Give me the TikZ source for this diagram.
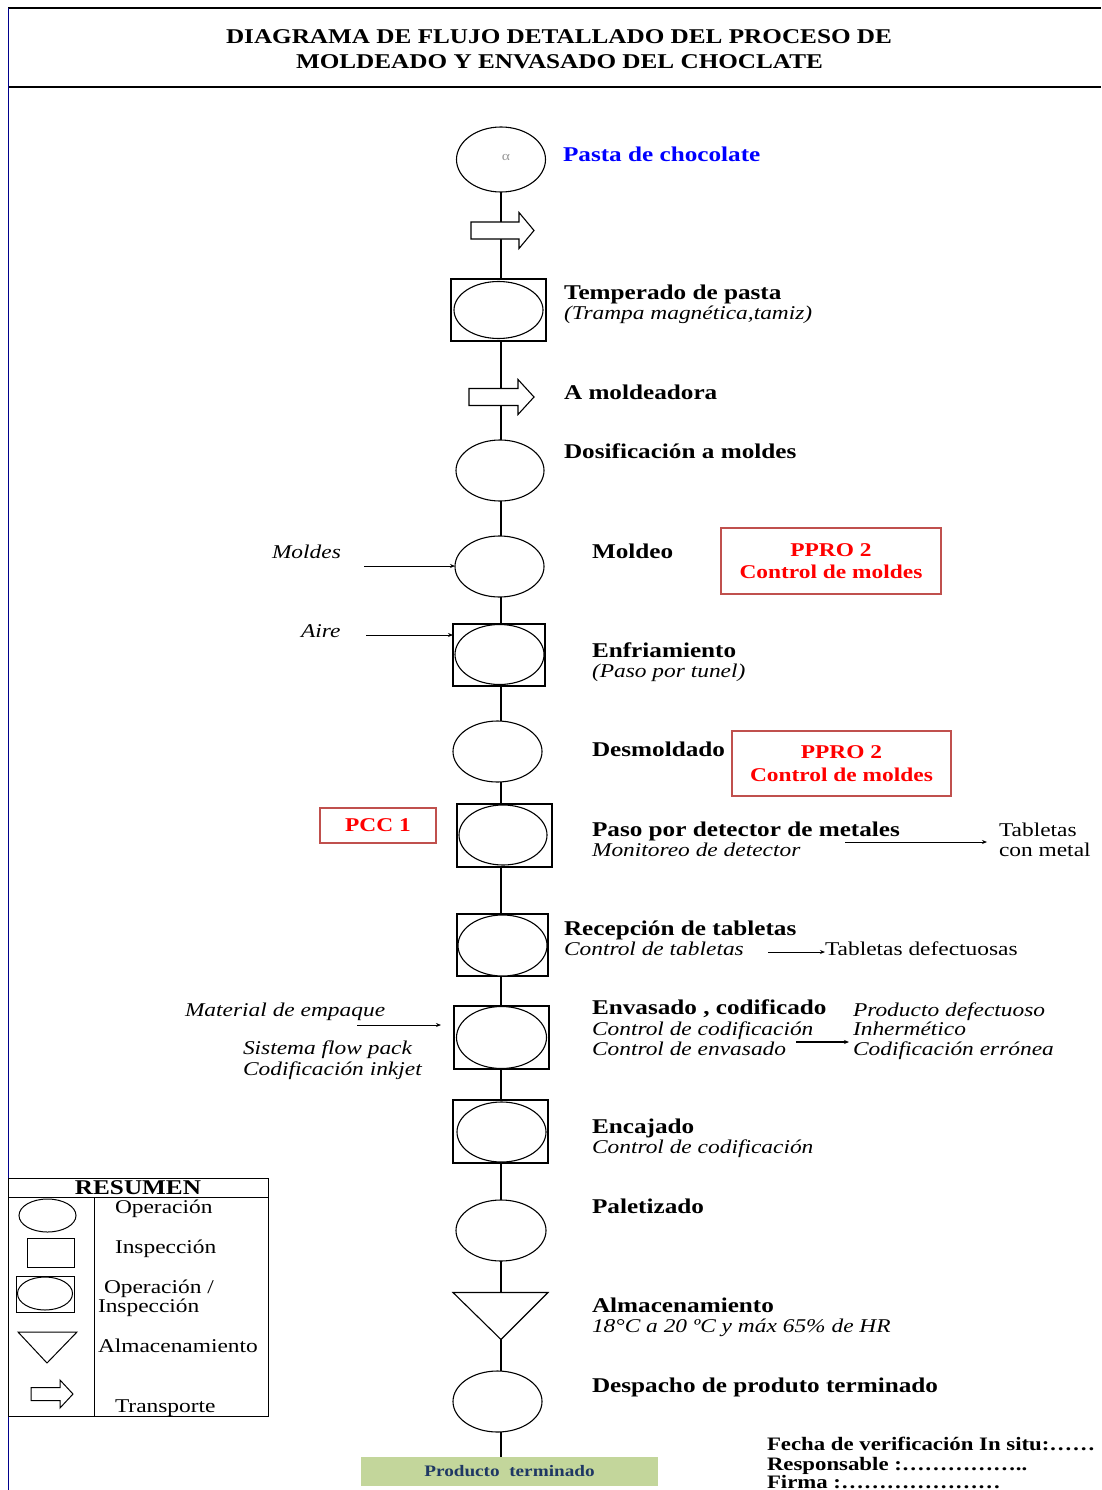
\documentclass[tikz,border=0pt]{standalone}
\usepackage{fontspec}
\setmainfont{Liberation Serif}[FakeStretch=1.2]
\usetikzlibrary{shapes.geometric,arrows.meta,backgrounds}
\definecolor{pprored}{HTML}{C0504D}
\definecolor{ptgreen}{HTML}{C3D69B}
\definecolor{ptnavy}{HTML}{1F3864}
\newcommand\transp[7]{%
  \draw[shp] (#2,#3-#6) -- (#2+#4,#3-#6) -- (#2+#4,#3-#7) -- (#2+#4+#5,#3)
     -- (#2+#4,#3+#7) -- (#2+#4,#3+#6) -- (#2,#3+#6) -- cycle;
  \coordinate (#1) at (#2+#4/2+#5/2,#3);}
\begin{document}
\begin{tikzpicture}[x=1pt,y=-1pt,
  every node/.style={inner sep=0pt, outer sep=0pt},
  shp/.style={draw, line width=1.1pt, fill=white},
  op/.style={shp, ellipse, minimum width=89pt, minimum height=61pt},
  insp/.style={shp, rectangle},
  bt/.style={anchor=base west, font=\fontsize{21}{24}\selectfont\bfseries},
  vt/.style={anchor=base west, font=\fontsize{19}{22}\selectfont\bfseries},
  it/.style={anchor=base west, font=\fontsize{19.5}{22}\selectfont\itshape},
  nt/.style={anchor=base west, font=\fontsize{19.5}{22}\selectfont},
  ppro/.style={draw=pprored, line width=1.3pt, text=red, align=center, font=\fontsize{19.5}{22.5}\selectfont\bfseries},
  side/.style={line width=1pt, -{Stealth[length=5pt,width=4pt]}},
  frame/.style={line width=1.2pt}
]
\useasboundingbox (0,0) rectangle (1101,1490);

% frame and title
\draw[frame] (8,8) -- (1101,8);
\draw[frame] (8,87) -- (1101,87);
\draw[line width=1pt, blue!55!black] (8,8) -- (8,1490);
\node[anchor=base, font=\fontsize{21}{25}\selectfont\bfseries] (title1) at (559,44) {DIAGRAMA DE FLUJO DETALLADO DEL PROCESO DE};
\node[anchor=base, font=\fontsize{21}{25}\selectfont\bfseries] (title2) at (559.5,69) {MOLDEADO Y ENVASADO DEL CHOCLATE};

% main column shapes
\node[op, minimum width=89, minimum height=65] (pasta) at (501,159.5) {};
\node[font=\fontsize{13}{13}\selectfont, text=gray!80] (alpha) at (506,157) {α};
\node[insp, minimum width=95, minimum height=62] (temp) at (498.5,310) {};
\node[op, minimum width=89, minimum height=57] (tempo) at (498.5,310) {};
\node[op, minimum width=88, minimum height=61] (dos) at (500,470.5) {};
\node[op] (mol) at (499.5,566.5) {};
\node[insp, minimum width=92, minimum height=62] (enf) at (499,655) {};
\node[op, minimum width=89, minimum height=60] (enfo) at (499.5,654.5) {};
\node[op] (des) at (497.5,751.5) {};
\node[insp, minimum width=95, minimum height=63] (det) at (504.5,835.5) {};
\node[op, minimum width=88, minimum height=60] (deto) at (503,835) {};
\node[insp, minimum width=91, minimum height=62] (rec) at (502.5,945) {};
\node[op, minimum width=89, minimum height=61] (reco) at (502.5,945.5) {};
\node[insp, minimum width=95, minimum height=63] (env) at (501.5,1037.5) {};
\node[op, minimum width=90, minimum height=62] (envo) at (501.5,1037.5) {};
\node[insp, minimum width=95, minimum height=63] (enc) at (500.5,1131.5) {};
\node[op, minimum width=89, minimum height=60] (enco) at (501.5,1132) {};
\node[op, minimum width=90, minimum height=61] (pal) at (501,1230.5) {};
\draw[shp] (453,1292.5) -- (548,1292.5) -- (501,1339.5) -- cycle;
\coordinate (alm) at (501,1310);
\node[op, minimum width=89, minimum height=61] (desp) at (497.5,1401.5) {};
\node[fill=ptgreen, minimum width=297, minimum height=29, text=ptnavy,
      font=\fontsize{16}{18}\selectfont\bfseries] (pt) at (509.5,1471.5) {Producto~ terminado};

% transport arrows
\transp{tr1}{471}{230.5}{48}{15}{8.5}{18}
\transp{tr2}{469}{397}{49}{16}{8.5}{17.5}

% main flow line (behind the white-filled symbols)
\begin{scope}[on background layer]
  \draw[line width=1.1pt] (pasta.south) -- (pasta.south |- pt.north);
\end{scope}

% step labels
\node[bt, text=blue] (tpasta) at (563,162) {Pasta de chocolate};
\node[bt] (ttemp) at (564,299) {Temperado de pasta};
\node[it] (ttemp2) at (564,319) {(Trampa magnética,tamiz)};
\node[bt] (tamol) at (564,399) {A moldeadora};
\node[bt] (tdos) at (564,458) {Dosificación a moldes};
\node[bt] (tmol) at (592,558) {Moldeo};
\node[ppro, minimum width=220, minimum height=66] (ppro1) at (831,561) {PPRO 2\\Control de moldes};
\node[it] (tmoldes) at (272,558) {Moldes};
\coordinate (a1) at (364,566);
\draw[side] (a1) -- (a1 -| mol.west);
\node[it] (taire) at (301,637) {Aire};
\coordinate (a2) at (366,635);
\draw[side] (a2) -- (a2 -| enf.west);
\node[bt] (tenf) at (592,657) {Enfriamiento};
\node[it] (tenf2) at (592,677) {(Paso por tunel)};
\node[bt] (tdes) at (592,756) {Desmoldado};
\node[ppro, minimum width=219, minimum height=65] (ppro2) at (841.5,763.5) {PPRO 2\\Control de moldes};
\node[ppro, minimum width=116, minimum height=35] (pcc) at (378,825.5) {PCC 1};
\node[bt] (tdet) at (592,836) {Paso por detector de metales};
\node[it] (tdet2) at (592,856) {Monitoreo de detector};
\node[nt] (tmet1) at (999,836) {Tabletas};
\node[nt] (tmet2) at (999,856) {con metal};
\coordinate (a3) at (845,842);
\draw[side, shorten >=12pt] (a3) -- (a3 -| tmet1.west);
\node[bt] (trec) at (564,935) {Recepción de tabletas};
\node[it] (trec2) at (564,955) {Control de tabletas};
\node[nt] (tdef) at (825,955) {Tabletas defectuosas};
\coordinate (a4) at (768,952);
\draw[side] (a4) -- (a4 -| tdef.west);
\node[it] (tmat) at (185,1016) {Material de empaque};
\coordinate (a5) at (357,1025);
\draw[side, shorten >=13pt] (a5) -- (a5 -| env.west);
\node[it] (tsis) at (243,1054) {Sistema flow pack};
\node[it] (tcod) at (243,1075) {Codificación inkjet};
\node[bt] (tenv) at (592,1014) {Envasado , codificado};
\node[it] (tenv2) at (592,1035) {Control de codificación};
\node[it] (tenv3) at (592,1055) {Control de envasado};
\node[it] (tpd) at (853,1016) {Producto defectuoso};
\node[it] (tinh) at (853,1035) {Inhermético};
\node[it] (tce) at (853,1055) {Codificación errónea};
\coordinate (a6) at (796,1042);
\draw[side, line width=1.6pt, shorten >=4pt] (a6) -- (a6 -| tce.west);
\node[bt] (tenc) at (592,1133) {Encajado};
\node[it] (tenc2) at (592,1153) {Control de codificación};
\node[bt] (tpal) at (592,1213) {Paletizado};
\node[bt] (talm) at (592,1312) {Almacenamiento};
\node[it] (talm2) at (592,1332) {18°C a 20 ºC y máx 65\% de HR};
\node[bt] (tdesp) at (592,1392) {Despacho de produto terminado};

% verification block
\node[vt] (fecha) at (767,1450) {Fecha de verificación In situ:……};
\node[vt] (resp) at (767,1470) {Responsable :……………..};
\node[vt] (firma) at (767,1488.5) {Firma :…………………};

% legend
\draw[line width=1pt] (8,1178) rectangle (268,1416);
\draw[line width=1pt] (8,1197) -- (268,1197);
\draw[line width=1pt] (94,1197) -- (94,1416);
\node[anchor=base, font=\fontsize{21}{24}\selectfont\bfseries] (resumen) at (138,1194) {RESUMEN};
\node[op, line width=1pt, minimum width=57, minimum height=33] (lop) at (47.5,1215.5) {};
\node[insp, line width=1pt, minimum width=47, minimum height=29] (lin) at (50.5,1252.5) {};
\node[insp, line width=1pt, minimum width=58, minimum height=36] (lopin) at (45,1294) {};
\node[op, line width=1pt, minimum width=55, minimum height=33] (lopino) at (45,1293.5) {};
\draw[shp, line width=1pt] (18,1332) -- (77,1332) -- (47,1363) -- cycle;
\coordinate (lalm) at (47,1345);
\begin{scope}[shp/.append style={line width=1pt}]
\transp{ltr}{31}{1394}{29}{13}{6.5}{14}
\end{scope}
\node[nt] (lt1) at (115,1213) {Operación};
\node[nt] (lt2) at (115,1253) {Inspección};
\node[nt] (lt3) at (104,1293) {Operación /};
\node[nt] (lt4) at (98,1312) {Inspección};
\node[nt] (lt5) at (98,1352) {Almacenamiento};
\node[nt] (lt6) at (115,1412) {Transporte};
\end{tikzpicture}
\end{document}
